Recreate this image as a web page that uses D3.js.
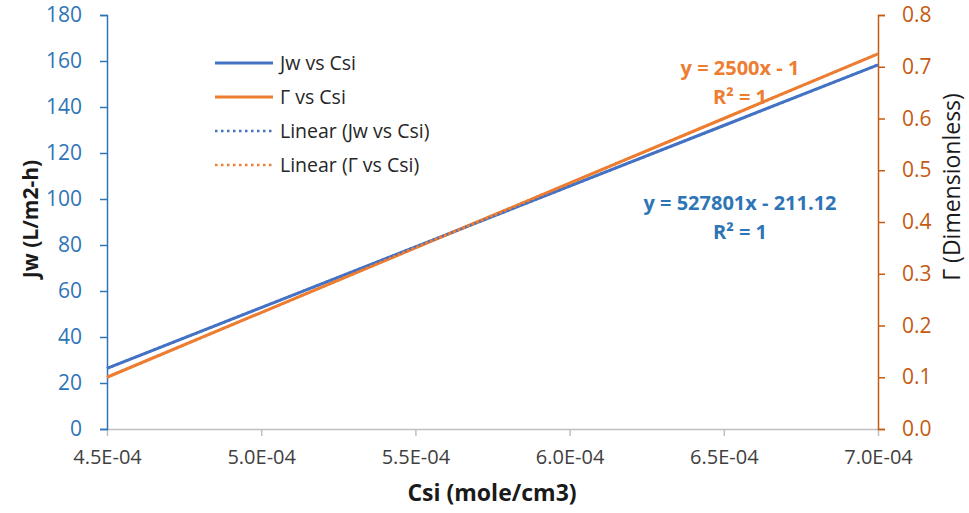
<!DOCTYPE html>
<html>
<head>
<meta charset="utf-8">
<script src="https://d3js.org/d3.v7.min.js"></script>
<style>
  body { margin: 0; background: #fff; }
  svg, svg text { font-family: "Open Sans", Calibri, sans-serif; }
</style>
</head>
<body>
<svg id="chart" width="969" height="513"></svg>
<script>
// data
const csi = [4.5e-4, 5.0e-4, 5.5e-4, 6.0e-4, 6.5e-4, 7.0e-4];
const jw = [26.39, 52.78, 79.17, 105.56, 131.95, 158.34];
const gamma = [0.100, 0.225, 0.350, 0.475, 0.600, 0.725];
const xTicks = [4.5e-4, 5.0e-4, 5.5e-4, 6.0e-4, 6.5e-4, 7.0e-4];
const leftTicks = [0, 20, 40, 60, 80, 100, 120, 140, 160, 180];
const rightTicks = [0, 0.1, 0.2, 0.3, 0.4, 0.5, 0.6, 0.7, 0.8];
const legendLabels = ["Jw vs Csi", "Γ vs Csi", "Linear (Jw vs Csi)", "Linear (Γ vs Csi)"];

const blue = "#4472C4", orange = "#ED7D31";
const axBlue = "#2E75B6", axOrange = "#C55A11";

const svg = d3.select("#chart");
const plotL = 107, plotR = 878, plotT = 15, plotB = 429;

const x = d3.scaleLinear().domain([4.5e-4, 7.0e-4]).range([plotL, plotR]);
const yL = d3.scaleLinear().domain([0, 180]).range([plotB, plotT]);
const yR = d3.scaleLinear().domain([0, 0.8]).range([plotB, plotT]);

// x axis
const xAxis = svg.append("g").attr("transform", `translate(0,${plotB})`)
  .call(d3.axisBottom(x).tickValues(xTicks).tickSize(7).tickSizeOuter(0).tickPadding(14)
    .tickFormat(d => d.toExponential(1).replace("e-4", "E-04")));
xAxis.select(".domain").attr("stroke", "#bfbfbf").attr("stroke-width", 1.5);
xAxis.selectAll(".tick line").attr("stroke", "#bfbfbf").attr("stroke-width", 1.5);
xAxis.selectAll("text").attr("font-size", 20).attr("fill", "#404040");

// left axis
const lAxis = svg.append("g").attr("transform", `translate(${plotL},0)`)
  .call(d3.axisLeft(yL).tickValues(leftTicks).tickSize(7).tickSizeOuter(7).tickPadding(18));
lAxis.select(".domain").attr("stroke", axBlue).attr("stroke-width", 1.5);
lAxis.selectAll(".tick line").attr("stroke", axBlue).attr("stroke-width", 1.5);
lAxis.selectAll("text").attr("font-size", 21).attr("fill", axBlue);

// right axis
const rAxis = svg.append("g").attr("transform", `translate(${plotR},0)`)
  .call(d3.axisRight(yR).tickValues(rightTicks).tickSize(7).tickSizeOuter(7).tickPadding(17)
    .tickFormat(d3.format(".1f")));
rAxis.select(".domain").attr("stroke", axOrange).attr("stroke-width", 1.5);
rAxis.selectAll(".tick line").attr("stroke", axOrange).attr("stroke-width", 1.5);
rAxis.selectAll("text").attr("font-size", 21).attr("fill", axOrange);

// series
const lineL = d3.line().x((d, i) => x(csi[i])).y(d => yL(d));
const lineR = d3.line().x((d, i) => x(csi[i])).y(d => yR(d));

svg.append("path").datum(jw).attr("d", lineL).attr("fill", "none")
  .attr("stroke", blue).attr("stroke-width", 3);
svg.append("path").datum(gamma).attr("d", lineR).attr("fill", "none")
  .attr("stroke", orange).attr("stroke-width", 3);
// linear trendlines (dotted)
svg.append("path").datum(jw).attr("d", lineL).attr("fill", "none")
  .attr("stroke", blue).attr("stroke-width", 2.5).attr("stroke-dasharray", "2.5,2.5");
svg.append("path").datum(gamma).attr("d", lineR).attr("fill", "none")
  .attr("stroke", orange).attr("stroke-width", 2.5).attr("stroke-dasharray", "2.5,2.5");

// equations
const eq = svg.append("g").attr("font-weight", "bold").attr("font-size", 20)
  .attr("text-anchor", "middle");
eq.append("text").attr("x", 740).attr("y", 75).attr("fill", orange).text("y = 2500x - 1");
eq.append("text").attr("x", 740).attr("y", 104).attr("fill", orange).text("R² = 1");
eq.append("text").attr("x", 740).attr("y", 210).attr("fill", axBlue).text("y = 527801x - 211.12");
eq.append("text").attr("x", 740).attr("y", 239).attr("fill", axBlue).text("R² = 1");

// legend
const legColors = [blue, orange, blue, orange];
const leg = svg.append("g");
legendLabels.forEach((t, i) => {
  const yy = 63 + i * 34;
  leg.append("line").attr("x1", 215).attr("x2", 273).attr("y1", yy).attr("y2", yy)
    .attr("stroke", legColors[i]).attr("stroke-width", i < 2 ? 3 : 2.5)
    .attr("stroke-dasharray", i < 2 ? null : "2.5,3.5");
  leg.append("text").attr("x", 280).attr("y", yy + 7).attr("font-size", 19.5)
    .attr("fill", "#262626").text(t);
});

// axis titles
svg.append("text").attr("transform", "translate(38,219) rotate(-90)")
  .attr("text-anchor", "middle").attr("font-weight", "bold").attr("font-size", 21)
  .attr("fill", "#1a1a1a").text("Jw (L/m2-h)");
svg.append("text").attr("transform", "translate(960,187) rotate(-90)")
  .attr("text-anchor", "middle").attr("font-size", 23)
  .attr("fill", "#1a1a1a").text("Γ (Dimensionless)");
svg.append("text").attr("x", 492).attr("y", 501)
  .attr("text-anchor", "middle").attr("font-weight", "bold").attr("font-size", 23)
  .attr("fill", "#1a1a1a").text("Csi (mole/cm3)");
</script>
</body>
</html>
